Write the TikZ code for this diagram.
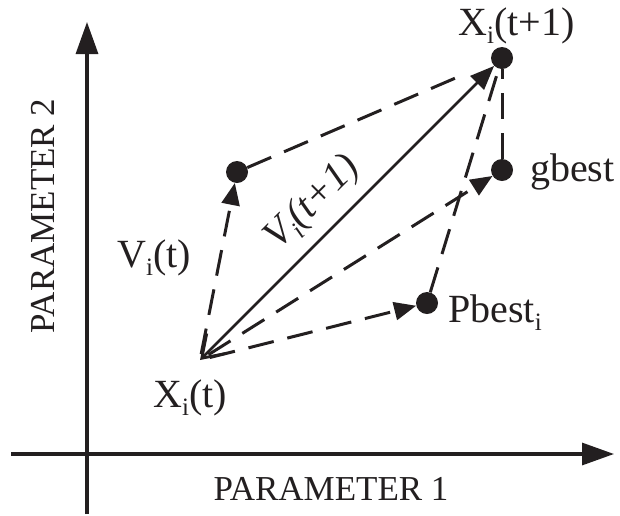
\documentclass[tikz,border=0pt]{standalone}
\usepackage{fontspec}
\setmainfont{Liberation Serif}
\usetikzlibrary{arrows.meta}
\definecolor{ink}{RGB}{35,31,32}
\newcommand\subi[1]{\raisebox{-8pt}{\fontsize{25}{30}\selectfont #1}}
\begin{document}
\begin{tikzpicture}[x=1pt,y=-1pt,
  ink,
  axisln/.style={line width=3.2pt, -{Triangle[length=32pt,width=22pt]}},
  solidln/.style={line width=2.8pt},
  dashln/.style={line width=3pt, dash pattern=on 26pt off 14pt},
  tri/.style={-{Triangle[length=22pt,width=18pt]}},
  dot/.style={circle, fill=ink, inner sep=0pt, minimum size=22pt},
  lbl/.style={inner sep=0pt, text=ink, font=\fontsize{40}{48}\selectfont},
  axislbl/.style={inner sep=0pt, text=ink, font=\fontsize{35}{42}\selectfont}]
\useasboundingbox (0,0) rectangle (620,515);
% axes
\coordinate (yb) at (87,514);
\coordinate (yt) at (87,22);
\coordinate (xl) at (11,454);
\coordinate (xr) at (614,454);
\draw[axisln] (yb) -- (yt);
\draw[axisln] (xl) -- (xr);
\node[axislbl] (p1) at (331,488.5) {PARAMETER 1};
\node[axislbl, rotate=90] (p2) at (42.5,216) {PARAMETER 2};
% points
\coordinate (xt) at (200,360);
\node[dot] (A) at (237,172) {};
\node[dot] (xt1) at (502,58) {};
\node[dot] (gb) at (502,170) {};
\node[dot] (pb) at (427,303) {};
% connectors
\draw[dashln, tri, shorten <=6pt] (xt) -- (A);
\draw[dashln, shorten >=34pt] (A) -- (xt1);
\draw[dashln, tri, shorten <=10pt] (xt) -- (pb);
\draw[dashln, tri, shorten <=10pt] (xt) -- (gb);
\draw[dashln] (pb) -- (xt1);
\draw[dashln] (gb) -- (xt1);
\draw[solidln, {Straight Barb[length=21pt,width=28pt]}-{Triangle[length=24pt,width=19pt]}] (xt) -- (xt1);
% labels
\node[lbl, anchor=base west] (lxt1) at (458,35) {X\subi{i}(t+1)};
\node[lbl, anchor=base west] (lg) at (530,181) {gbest};
\node[lbl, anchor=base west] (lp) at (448,322) {Pbest\subi{i}};
\node[lbl, anchor=base west] (lv) at (117,267) {V\subi{i}(t)};
\node[lbl, anchor=base west] (lx) at (153,407) {X\subi{i}(t)};
\node[lbl, rotate=45] (lvt1) at (313,203) {\textit{V\subi{i}(t+1)}};
\end{tikzpicture}
\end{document}
